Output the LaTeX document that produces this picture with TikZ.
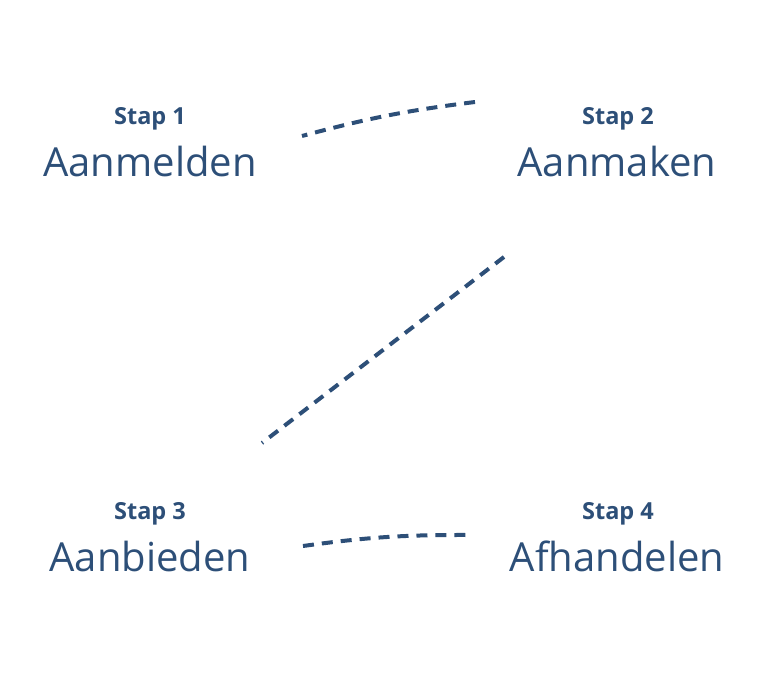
\documentclass[tikz,border=0pt]{standalone}
\usepackage{fontspec}
\setmainfont{Open Sans}
\usepackage{tikz}
\definecolor{stapblauw}{HTML}{2D4F78}
\tikzset{x=1pt,y=-1pt}
\tikzset{stapnr/.style={anchor=base,text=stapblauw,font=\fontsize{23.5}{27}\selectfont\bfseries}}
\tikzset{stapnaam/.style={anchor=base,text=stapblauw,font=\fontsize{40}{46}\selectfont}}
\tikzset{streep/.style={draw=stapblauw,line width=4pt,dash pattern=on 11pt off 8pt}}

\begin{document}
\begin{tikzpicture}
    \useasboundingbox (0,0) rectangle (768,695);
    \node[stapnr] (nr1) at (150,125) {Stap 1};
    \node[stapnaam] (naam1) at (150,177) {Aanmelden};
    \node[stapnr] (nr2) at (618,125) {Stap 2};
    \node[stapnaam] (naam2) at (617,177) {Aanmaken};
    \node[stapnr] (nr3) at (150,519) {Stap 3};
    \node[stapnaam] (naam3) at (150,571) {Aanbieden};
    \node[stapnr] (nr4) at (618,519) {Stap 4};
    \node[stapnaam] (naam4) at (617,571) {Afhandelen};
    \coordinate (a1) at (475,102);
    \coordinate (b1) at (302,136);
    \coordinate (a2) at (504,257);
    \coordinate (b2) at (262,443);
    \coordinate (a3) at (303,546);
    \coordinate (b3) at (467,535);
    \draw[streep] (a1) to[bend right=4] (b1);
    \draw[streep] (a2) -- (b2);
    \draw[streep] (a3) to[bend left=4] (b3);
\end{tikzpicture}
\end{document}
